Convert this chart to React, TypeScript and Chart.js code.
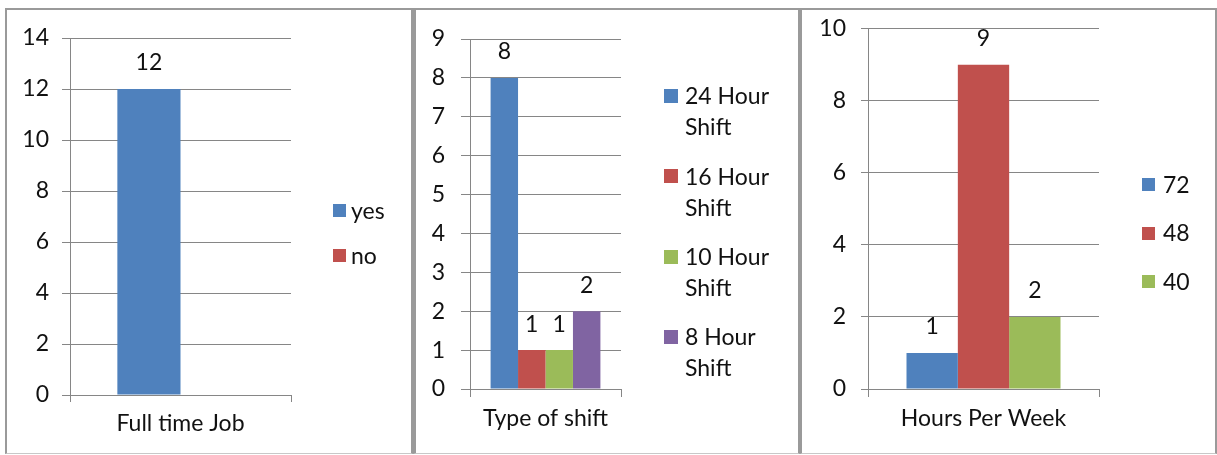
import React, { useEffect, useRef } from "react";
import { Chart, registerables } from "chart.js";

Chart.register(...registerables);

// ---------------- data ----------------
const fullTimeCategories = ["Full time Job"];
const fullTimeSeries = ["yes", "no"];
const fullTimeValues = [12, 0];
const fullTimeTicks = { max: 14, step: 2 };

const shiftCategories = ["Type of shift"];
const shiftSeries = ["24 Hour Shift", "16 Hour Shift", "10 Hour Shift", "8 Hour Shift"];
const shiftValues = [8, 1, 1, 2];
const shiftTicks = { max: 9, step: 1 };

const hoursCategories = ["Hours Per Week"];
const hoursSeries = ["72", "48", "40"];
const hoursValues = [1, 9, 2];
const hoursTicks = { max: 10, step: 2 };

// ---------------- styles ----------------
const PALETTE = ["#4F81BD", "#C0504D", "#9BBB59", "#8064A2"];
const FONT = "Lato, 'Noto Sans', sans-serif";
const FONT_SIZE = 23;
const TEXT = "#111111";
const GRID = "#868686";
const W = 1217;
const H = 455;
const Y_AXIS_W = 60;
const X_AXIS_H = 50;

type Layout = {
  left: number; right: number; top: number; bottom: number;
  yTickLen: number; yTickPad: number; xTickLen: number; xTickPad: number;
  legend: { x: number; textX: number; y: number; spacing: number; lineHeight: number; box: number; maxWidth: number };
};

const layouts: Layout[] = [
  { left: 70, right: 291, top: 38, bottom: 395, yTickLen: 8, yTickPad: 13, xTickLen: 7, xTickPad: 8,
    legend: { x: 333, textX: 351, y: 210.5, spacing: 45, lineHeight: 31, box: 13, maxWidth: 95 } },
  { left: 470, right: 621, top: 39, bottom: 389, yTickLen: 9, yTickPad: 16, xTickLen: 8, xTickPad: 8,
    legend: { x: 664, textX: 685, y: 96, spacing: 80.3, lineHeight: 31, box: 14, maxWidth: 100 } },
  { left: 868, right: 1099, top: 28, bottom: 389, yTickLen: 7, yTickPad: 15, xTickLen: 8, xTickPad: 8,
    legend: { x: 1142, textX: 1163, y: 184.5, spacing: 48.5, lineHeight: 31, box: 13, maxWidth: 95 } },
];

const chartsData = [
  { categories: fullTimeCategories, series: fullTimeSeries, values: fullTimeValues, ticks: fullTimeTicks },
  { categories: shiftCategories, series: shiftSeries, values: shiftValues, ticks: shiftTicks },
  { categories: hoursCategories, series: hoursSeries, values: hoursValues, ticks: hoursTicks },
];

function wrapText(ctx: CanvasRenderingContext2D, text: string, maxWidth: number): string[] {
  const words = text.split(" ");
  const lines: string[] = [];
  let cur = "";
  for (const w of words) {
    const test = cur ? cur + " " + w : w;
    if (cur && ctx.measureText(test).width > maxWidth) {
      lines.push(cur);
      cur = w;
    } else cur = test;
  }
  if (cur) lines.push(cur);
  return lines;
}

const sideLegend = {
  id: "sideLegend",
  afterDraw(chart: any, _a: any, opts: any) {
    const ctx: CanvasRenderingContext2D = chart.ctx;
    ctx.save();
    ctx.font = `${FONT_SIZE}px ${FONT}`;
    ctx.textBaseline = "middle";
    ctx.textAlign = "left";
    chart.data.datasets.forEach((ds: any, i: number) => {
      const cy = opts.y + i * opts.spacing;
      ctx.fillStyle = ds.backgroundColor;
      ctx.fillRect(opts.x, Math.round(cy - opts.box / 2), opts.box, opts.box);
      ctx.fillStyle = TEXT;
      wrapText(ctx, ds.label, opts.maxWidth).forEach((ln, j) => {
        ctx.fillText(ln, opts.textX, cy + 1 + j * opts.lineHeight);
      });
    });
    ctx.restore();
  },
};

const valueLabels = {
  id: "valueLabels",
  afterDatasetsDraw(chart: any, _a: any, opts: any) {
    const ctx: CanvasRenderingContext2D = chart.ctx;
    ctx.save();
    ctx.font = `${FONT_SIZE}px ${FONT}`;
    ctx.textBaseline = "middle";
    ctx.textAlign = "center";
    ctx.fillStyle = TEXT;
    chart.data.datasets.forEach((ds: any, i: number) => {
      const meta = chart.getDatasetMeta(i);
      meta.data.forEach((bar: any, j: number) => {
        const v = ds.data[j];
        if (!v) return;
        ctx.fillText(String(v), bar.x, bar.y - opts.offset);
      });
    });
    ctx.restore();
  },
};

function makeConfig(idx: number): any {
  const d = chartsData[idx];
  const L = layouts[idx];
  const n = d.series.length;
  return {
    type: "bar",
    data: {
      labels: d.categories,
      datasets: d.series.map((s, i) => ({
        label: s,
        data: [d.values[i]],
        backgroundColor: PALETTE[i],
        borderWidth: 0,
        categoryPercentage: n / (n + 1.5),
        barPercentage: 1,
      })),
    },
    plugins: [sideLegend, valueLabels],
    options: {
      responsive: false,
      animation: false,
      events: [],
      layout: {
        padding: {
          left: L.left - Y_AXIS_W,
          right: W - L.right,
          top: L.top,
          bottom: H - L.bottom - X_AXIS_H,
        },
      },
      plugins: {
        legend: { display: false },
        tooltip: { enabled: false },
        title: { display: false },
        sideLegend: L.legend,
        valueLabels: { offset: 26 },
      },
      scales: {
        x: {
          afterFit: (s: any) => { s.height = X_AXIS_H; },
          grid: { display: true, drawOnChartArea: false, drawTicks: true, tickLength: L.xTickLen, color: GRID, offset: true },
          border: { display: true, color: GRID, width: 1 },
          ticks: { color: TEXT, font: { family: FONT, size: FONT_SIZE }, padding: L.xTickPad, maxRotation: 0, autoSkip: false },
        },
        y: {
          min: 0,
          max: d.ticks.max,
          afterFit: (s: any) => { s.width = Y_AXIS_W; },
          grid: { color: GRID, tickLength: L.yTickLen, drawTicks: true },
          border: { display: true, color: GRID, width: 1 },
          ticks: { stepSize: d.ticks.step, color: TEXT, font: { family: FONT, size: FONT_SIZE }, padding: L.yTickPad },
        },
      },
    },
  };
}

function ChartCanvas({ idx }: { idx: number }) {
  const ref = useRef<HTMLCanvasElement | null>(null);
  useEffect(() => {
    if (!ref.current) return;
    const c = new Chart(ref.current, makeConfig(idx));
    return () => c.destroy();
  }, [idx]);
  return (
    <canvas
      ref={ref}
      width={W}
      height={H}
      style={{ position: "absolute", left: 0, top: 0, width: W, height: H }}
    />
  );
}

const BORDER = "#9a9a9a";

export default function App() {
  const panel = (left: number, width: number, bl: number): React.CSSProperties => ({
    position: "absolute",
    left,
    top: 8,
    width,
    height: 446,
    boxSizing: "border-box",
    borderTop: `2px solid ${BORDER}`,
    borderLeft: `${bl}px solid ${BORDER}`,
    borderRight: `2px solid ${BORDER}`,
    borderBottom: `1px solid #c8c8c8`,
  });
  return (
    <div style={{ position: "absolute", left: 0, top: 0, width: W, height: H, background: "#fff", overflow: "hidden" }}>
      <div style={panel(5, 408, 2)} />
      <div style={panel(413, 387, 3)} />
      <div style={panel(800, 417, 2)} />
      <ChartCanvas idx={0} />
      <ChartCanvas idx={1} />
      <ChartCanvas idx={2} />
    </div>
  );
}
